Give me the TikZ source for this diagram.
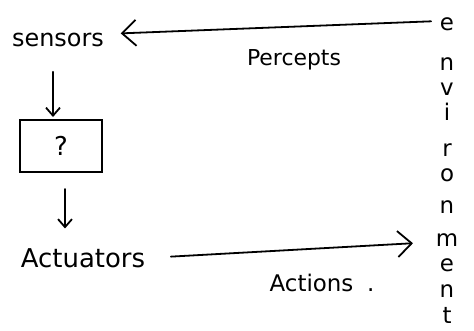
\documentclass[tikz,border=0pt]{standalone}
\usepackage{fontspec}
\setmainfont{DejaVu Sans}
\usetikzlibrary{arrows.meta}
\begin{document}
\begin{tikzpicture}[x=1bp, y=-1bp, line width=1.8bp, line cap=round,
  lbl/.style={inner sep=0pt, font=\fontsize{24}{28}\selectfont},
  letter/.style={inner sep=0pt, font=\fontsize{23}{26}\selectfont},
  flow/.style={-{Straight Barb[length=8bp,width=14bp]}},
  wide/.style={-{Straight Barb[length=14bp,width=26bp]}}]
\useasboundingbox (0,0) rectangle (474,330);

% agent side
\node[lbl] (sensors) at (58,40) {sensors};
\node[draw, line width=2bp, minimum width=82bp, minimum height=52bp, inner sep=0pt,
      font=\fontsize{26}{28}\selectfont] (agent) at (61,146) {?};
\node[lbl, font=\fontsize{26}{30}\selectfont] (actuators) at (83,258) {Actuators};

% labels on the two channels
\node[lbl, font=\fontsize{22}{26}\selectfont] (percepts) at (294,60) {Percepts};
\node[lbl, font=\fontsize{23}{26}\selectfont] (actions) at (322,283) {Actions\hspace{0.6em}.};

% the environment, written vertically
\foreach \ch/\y/\nm in {e/24/e1, n/64/n1, v/89/v, i/112/i, r/150/r, o/175/o,
                        n/207/n2, m/240/m, e/265/e2, n/291/n3, t/315/t}
  \node[letter] (\nm) at (447,\y) {\ch};

% percepts and actions
\draw[wide, shorten <=8bp, shorten >=16bp] ([yshift=3bp]e1.west) -- ([yshift=6bp]sensors.east);
\draw[flow, shorten <=24bp, shorten >=2bp] ([xshift=-5bp]sensors.south) -- ([xshift=-8bp]agent.north);
\draw[flow, shorten <=16bp, shorten >=19bp] ([xshift=4bp]agent.south) -- ([xshift=-18bp]actuators.north);
\draw[wide, shorten <=25bp, shorten >=22bp] (actuators.east) -- ([yshift=-2bp]m.west);
\end{tikzpicture}
\end{document}
